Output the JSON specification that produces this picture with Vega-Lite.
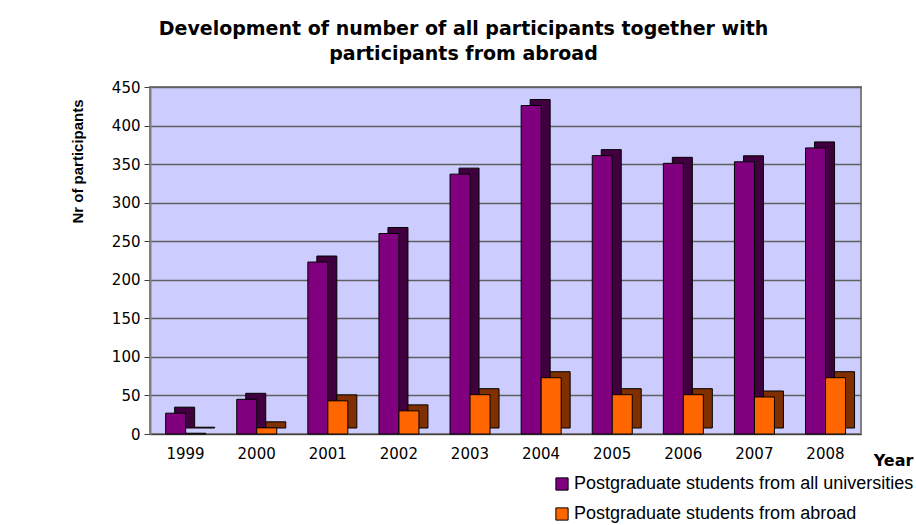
{
  "$schema": "https://vega.github.io/schema/vega-lite/v6.json",
  "autosize": "none",
  "width": 711,
  "height": 347,
  "padding": {"left": 150, "top": 87, "right": 55, "bottom": 91},
  "background": "white",
  "title": {
    "text": ["Development of number of all participants together with", "participants from abroad"],
    "font": "DejaVu Sans",
    "fontSize": 19,
    "fontWeight": "bold",
    "color": "black",
    "lineHeight": 25,
    "anchor": "middle",
    "dx": -42,
    "offset": 16
  },
  "config": {
    "view": {"fill": "#CCCCFF", "stroke": "#808080", "strokeWidth": 2},
    "font": "DejaVu Sans"
  },
  "resolve": {"scale": {"xOffset": "independent"}},
  "data": {
    "values": [
      {"year": "1999", "series": "Postgraduate students from all universities", "value": 27},
      {"year": "1999", "series": "Postgraduate students from abroad", "value": 1},
      {"year": "2000", "series": "Postgraduate students from all universities", "value": 45},
      {"year": "2000", "series": "Postgraduate students from abroad", "value": 8},
      {"year": "2001", "series": "Postgraduate students from all universities", "value": 223},
      {"year": "2001", "series": "Postgraduate students from abroad", "value": 43},
      {"year": "2002", "series": "Postgraduate students from all universities", "value": 260},
      {"year": "2002", "series": "Postgraduate students from abroad", "value": 30},
      {"year": "2003", "series": "Postgraduate students from all universities", "value": 337},
      {"year": "2003", "series": "Postgraduate students from abroad", "value": 51},
      {"year": "2004", "series": "Postgraduate students from all universities", "value": 426},
      {"year": "2004", "series": "Postgraduate students from abroad", "value": 73},
      {"year": "2005", "series": "Postgraduate students from all universities", "value": 361},
      {"year": "2005", "series": "Postgraduate students from abroad", "value": 51},
      {"year": "2006", "series": "Postgraduate students from all universities", "value": 351},
      {"year": "2006", "series": "Postgraduate students from abroad", "value": 51},
      {"year": "2007", "series": "Postgraduate students from all universities", "value": 353},
      {"year": "2007", "series": "Postgraduate students from abroad", "value": 48},
      {"year": "2008", "series": "Postgraduate students from all universities", "value": 371},
      {"year": "2008", "series": "Postgraduate students from abroad", "value": 73}
    ]
  },
  "encoding": {
    "x": {
      "field": "year",
      "type": "nominal",
      "scale": {"paddingInner": 0.44, "paddingOuter": 0.22},
      "axis": {
        "title": "Year",
        "titleFont": "DejaVu Sans",
        "titleFontSize": 16,
        "titleFontWeight": "bold",
        "titleX": 743,
        "titleY": 26,
        "titleAlign": "center",
        "titleBaseline": "middle",
        "labelAngle": 0,
        "labelFont": "DejaVu Sans",
        "labelFontSize": 15,
        "labelColor": "black",
        "labelPadding": 12,
        "ticks": false,
        "domainColor": "#404040",
        "domainWidth": 1
      }
    },
    "y": {
      "field": "value",
      "type": "quantitative",
      "scale": {"domain": [0, 450], "nice": false},
      "axis": {
        "title": "Nr of participants",
        "titleFont": "Liberation Sans",
        "titleFontSize": 15,
        "titleFontWeight": "bold",
        "titleAngle": -90,
        "titleX": -73,
        "titleY": 74,
        "titleAlign": "center",
        "titleBaseline": "middle",
        "values": [0, 50, 100, 150, 200, 250, 300, 350, 400, 450],
        "labelFont": "DejaVu Sans",
        "labelFontSize": 15,
        "labelColor": "black",
        "labelPadding": 4,
        "tickColor": "#404040",
        "tickSize": 6,
        "domainColor": "#808080",
        "domainWidth": 2,
        "gridColor": "#606060",
        "gridWidth": 1.5
      }
    }
  },
  "layer": [
    {
      "mark": {"type": "bar", "yOffset": -6, "stroke": "black", "strokeWidth": 1},
      "encoding": {
        "xOffset": {
          "field": "series",
          "type": "nominal",
          "sort": ["Postgraduate students from all universities", "Postgraduate students from abroad"],
          "scale": {"range": [9, 49], "paddingInner": 0, "paddingOuter": 0}
        },
        "color": {
          "condition": {"test": "datum.series === 'Postgraduate students from abroad'", "value": "#803000"},
          "value": "#40003f"
        }
      }
    },
    {
      "mark": {"type": "bar", "stroke": "black", "strokeWidth": 1},
      "encoding": {
        "xOffset": {
          "field": "series",
          "type": "nominal",
          "sort": ["Postgraduate students from all universities", "Postgraduate students from abroad"],
          "scale": {"range": [0, 40], "paddingInner": 0, "paddingOuter": 0}
        },
        "color": {
          "field": "series",
          "type": "nominal",
          "sort": ["Postgraduate students from all universities", "Postgraduate students from abroad"],
          "scale": {
            "domain": ["Postgraduate students from all universities", "Postgraduate students from abroad"],
            "range": ["#800080", "#FF6600"]
          },
          "legend": {
            "title": null,
            "orient": "none",
            "legendX": 403,
            "legendY": 388,
            "symbolType": "square",
            "symbolSize": 150,
            "symbolStrokeColor": "black",
            "symbolStrokeWidth": 1,
            "symbolOpacity": 1,
            "labelFont": "Liberation Sans",
            "labelFontSize": 18,
            "labelColor": "black",
            "labelLimit": 400,
            "labelOffset": 3,
            "rowPadding": 12
          }
        }
      }
    }
  ]
}
